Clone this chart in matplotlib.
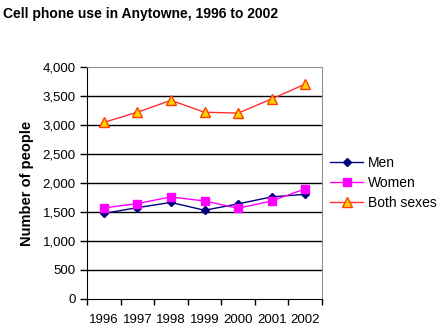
import matplotlib.pyplot as plt

years = ["1996", "1997", "1998", "1999", "2000", "2001", "2002"]
men = [1475, 1575, 1665, 1530, 1640, 1760, 1805]
women = [1570, 1645, 1760, 1690, 1565, 1690, 1900]
both = [3045, 3220, 3425, 3220, 3205, 3450, 3705]

plt.rcParams['font.family'] = ['Liberation Sans', 'DejaVu Sans']

fig = plt.figure(figsize=(4.43, 3.34), dpi=100)
ax = fig.add_axes([0.1964, 0.1048, 0.5305, 0.6946])

x = list(range(len(years)))
ax.plot(x, men, color="#000080", marker="D", markersize=4.5, linewidth=1, label="Men")
ax.plot(x, women, color="#FF00FF", marker="s", markersize=6, linewidth=1, label="Women")
ax.plot(x, both, color="#FF3030", marker="^", markersize=7.5, linewidth=1,
        markerfacecolor="#FFD000", markeredgecolor="#FF4000", label="Both sexes")

ax.set_xlim(-0.5, len(years) - 0.5)
ax.set_ylim(0, 4000)
ax.set_yticks(range(0, 4001, 500))
ax.set_yticklabels(["{:,}".format(v) for v in range(0, 4001, 500)], fontsize=9.5)
ax.set_xticks(x)
ax.set_xticklabels(years, fontsize=9.5)
ax.tick_params(axis="x", length=0, pad=11)
ax.set_xticks([i - 0.5 for i in range(len(years) + 1)], minor=True)
ax.tick_params(axis="x", which="minor", length=4, width=1, color="black")
ax.tick_params(axis="y", length=5, width=1, pad=3)

for v in range(500, 4000, 500):
    ax.axhline(v, color="black", linewidth=1, zorder=0)

ax.spines["top"].set_color("#909090")
ax.spines["right"].set_color("#909090")
ax.spines["left"].set_color("black")
ax.spines["bottom"].set_color("black")

ax.set_ylabel("Number of people", fontsize=10.5, fontweight="bold", labelpad=6)

fig.text(0.007, 0.978, "Cell phone use in Anytowne, 1996 to 2002", fontsize=10,
         fontweight="bold", ha="left", va="top")

fig.legend(loc="center left", bbox_to_anchor=(0.745, 0.452), frameon=False,
           fontsize=10, handlelength=2.4, handletextpad=0.3, labelspacing=0.45,
           borderaxespad=0, borderpad=0)

fig.savefig("out.png", dpi=100)
